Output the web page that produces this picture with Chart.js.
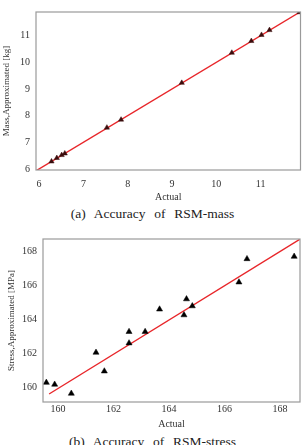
<!DOCTYPE html>
<html>
<head>
<meta charset="utf-8">
<script src="https://cdn.jsdelivr.net/npm/chart.js@4.4.1/dist/chart.umd.min.js"></script>
<style>
  body { margin: 0; background: #fff; width: 305px; height: 445px; overflow: hidden; position: relative; }
  .box { position: absolute; left: 0; width: 305px; }
  .cap { position: absolute; left: 0; width: 305px; text-align: center; font-family: "Liberation Serif", "DejaVu Serif", serif; font-size: 13.5px; color: #222; word-spacing: 1px; white-space: nowrap; }
</style>
</head>
<body>
<div class="box" style="top:0;height:205px"><canvas id="massChart"></canvas></div>
<div class="cap" style="top:206px">(a)&nbsp; Accuracy&nbsp; of&nbsp; RSM-mass</div>
<div class="box" style="top:225px;height:205px"><canvas id="stressChart"></canvas></div>
<div class="cap" style="top:434px">(b)&nbsp; Accuracy&nbsp; of&nbsp; RSM-stress</div>
<script>
// RSM-mass: actual vs approximated [kg]
const massActual = [6.28, 6.40, 6.51, 6.58, 7.53, 7.85, 9.22, 10.35, 10.79, 11.02, 11.20, 11.88];
const massApprox = [6.28, 6.41, 6.52, 6.58, 7.55, 7.85, 9.23, 10.36, 10.80, 11.03, 11.21, 11.88];
const massFitX = [5.93, 11.9];
const massFitY = [5.93, 11.9];
const massTicks = [6, 7, 8, 9, 10, 11];

// RSM-stress: actual vs approximated [MPa]
const stressActual = [159.58, 159.88, 160.48, 161.37, 161.67, 162.56, 162.56, 163.14, 163.66, 164.54, 164.63, 164.84, 166.52, 166.81, 168.51];
const stressApprox = [160.29, 160.18, 159.65, 162.06, 160.96, 163.28, 162.61, 163.28, 164.60, 164.26, 165.20, 164.79, 166.19, 167.56, 167.70];
const stressFitX = [159.68, 168.72];
const stressFitY = [159.62, 168.72];
const stressTicks = [160, 162, 164, 166, 168];

const serif = 'Liberation Serif';

// draws the grey frame around the plot area
const frame = {
    id: 'frame',
    afterDatasetsDraw(chart) {
        const a = chart.chartArea;
        const ctx = chart.ctx;
        ctx.save();
        ctx.strokeStyle = '#9a9a9a';
        ctx.lineWidth = 1.2;
        ctx.strokeRect(a.left, a.top, a.right - a.left, a.bottom - a.top);
        ctx.restore();
    }
};

function makeChart(id, xs, ys, fx, fy, ticks, xr, yr, yTitle, opt) {
    const pts = xs.map((x, i) => ({ x: x, y: ys[i] }));
    const fit = fx.map((x, i) => ({ x: x, y: fy[i] }));
    new Chart(document.getElementById(id), {
        type: 'scatter',
        data: {
            datasets: [
                {
                    data: fit, showLine: true, borderColor: '#e8262a', borderWidth: 1.4,
                    pointRadius: 0, order: 2
                },
                {
                    data: pts, pointStyle: 'triangle', pointRadius: opt.r,
                    backgroundColor: opt.color, borderColor: opt.color, borderWidth: 0.5, order: 1
                }
            ]
        },
        options: {
            responsive: true,
            maintainAspectRatio: false,
            animation: false,
            layout: { padding: { top: opt.top, right: opt.right, bottom: 0, left: 0 } },
            plugins: { legend: { display: false }, tooltip: { enabled: false } },
            scales: {
                x: {
                    type: 'linear', min: xr[0], max: xr[1],
                    afterBuildTicks: s => { s.ticks = ticks.map(v => ({ value: v })); },
                    afterFit: s => { s.height = opt.xh; },
                    grid: { display: false, drawTicks: false },
                    border: { display: false },
                    ticks: { font: { family: serif, size: 10 }, color: '#333', padding: opt.xpad, maxRotation: 0 },
                    title: { display: true, text: 'Actual', font: { family: serif, size: 10 }, color: '#333', padding: { top: 0, bottom: opt.xtpad } }
                },
                y: {
                    type: 'linear', min: yr[0], max: yr[1],
                    afterBuildTicks: s => { s.ticks = ticks.map(v => ({ value: v })); },
                    afterFit: s => { s.width = opt.yw; },
                    grid: { display: false, drawTicks: false },
                    border: { display: false },
                    ticks: { font: { family: serif, size: 10 }, color: '#333', padding: 6 },
                    title: { display: true, text: yTitle, font: { family: serif, size: 9 }, color: '#333', padding: { top: opt.ytpad, bottom: 0 } }
                }
            }
        },
        plugins: [frame]
    });
}

makeChart('massChart', massActual, massApprox, massFitX, massFitY, massTicks,
    [5.93, 11.9], [5.96, 11.89], 'Mass,Approximated [kg]',
    { r: 3, color: '#3a0d0d', top: 12, right: 3, xh: 35, yw: 36, xpad: 8, xtpad: 2, ytpad: 1 });

makeChart('stressChart', stressActual, stressApprox, stressFitX, stressFitY, stressTicks,
    [159.46, 168.72], [159.15, 168.73], 'Stress,Approximated [MPa]',
    { r: 3.5, color: '#000', top: 14, right: 5, xh: 28, yw: 43, xpad: 1, xtpad: 0, ytpad: 6 });
</script>
</body>
</html>
